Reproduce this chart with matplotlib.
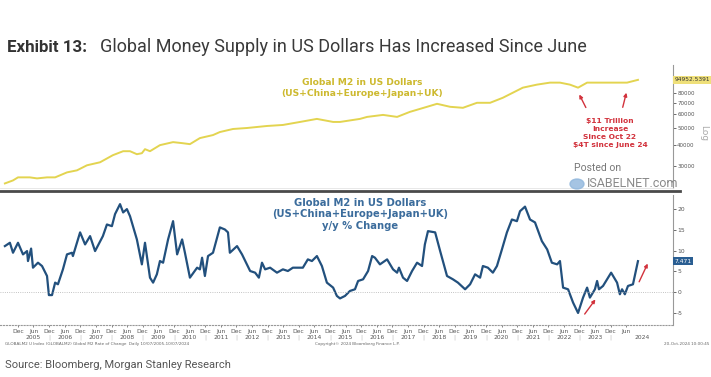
import matplotlib
matplotlib.use("Agg")
import matplotlib.pyplot as plt
import matplotlib.transforms as mtransforms
from matplotlib.patches import Ellipse
from matplotlib.ticker import NullLocator

# Global M2 in USD (billions), decimal-year dates
m2_dates = [2004.50, 2004.76, 2004.92, 2005.30, 2005.53, 2005.85, 2006.11, 2006.49, 2006.81,
            2007.13, 2007.55, 2007.96, 2008.29, 2008.51, 2008.73, 2008.89, 2008.99, 2009.15,
            2009.47, 2009.89, 2010.18, 2010.43, 2010.75, 2011.17, 2011.39, 2011.81, 2012.26,
            2012.90, 2013.41, 2013.96, 2014.50, 2015.02, 2015.24, 2015.88, 2016.11, 2016.62,
            2017.07, 2017.48, 2018.03, 2018.35, 2018.77, 2019.18, 2019.63, 2020.05, 2020.46,
            2021.10, 2021.55, 2021.97, 2022.29, 2022.61, 2022.87, 2023.16, 2023.67, 2024.12,
            2024.44, 2024.79]
m2_values = [23880, 24860, 25890, 25890, 25540, 25890, 25890, 27670, 28430,
             30410, 31660, 34790, 36690, 36690, 35250, 35730, 37700, 36690,
             39780, 41410, 40860, 40310, 43700, 45500, 47370, 49330, 49990,
             51350, 52050, 54190, 56430, 54190, 54190, 56430, 57950, 59520,
             57950, 61970, 66300, 69000, 66300, 65420, 69940, 69940, 74800,
             85560, 89080, 91500, 91500, 89080, 85560, 91500, 91500, 91500,
             91500, 94952.5391]

# y/y % change
yoy_dates = [2004.50, 2004.66, 2004.76, 2004.92, 2005.08, 2005.21, 2005.24, 2005.34, 2005.40,
             2005.56, 2005.69, 2005.85, 2005.91, 2006.01, 2006.11, 2006.20, 2006.36, 2006.49,
             2006.65, 2006.68, 2006.91, 2007.07, 2007.23, 2007.39, 2007.64, 2007.77, 2007.93,
             2008.03, 2008.19, 2008.29, 2008.41, 2008.51, 2008.73, 2008.89, 2008.99, 2009.15,
             2009.25, 2009.37, 2009.47, 2009.57, 2009.73, 2009.89, 2010.02, 2010.18, 2010.27,
             2010.43, 2010.66, 2010.75, 2010.82, 2010.91, 2011.01, 2011.17, 2011.39, 2011.55,
             2011.65, 2011.71, 2011.94, 2012.10, 2012.36, 2012.52, 2012.64, 2012.74, 2012.84,
             2013.00, 2013.22, 2013.41, 2013.57, 2013.73, 2014.05, 2014.21, 2014.34, 2014.50,
             2014.66, 2014.82, 2015.02, 2015.14, 2015.24, 2015.40, 2015.56, 2015.72, 2015.82,
             2015.98, 2016.14, 2016.27, 2016.36, 2016.52, 2016.75, 2016.94, 2017.07, 2017.13,
             2017.26, 2017.39, 2017.55, 2017.71, 2017.87, 2017.96, 2018.06, 2018.29, 2018.45,
             2018.67, 2018.86, 2019.02, 2019.25, 2019.41, 2019.57, 2019.73, 2019.82, 2019.98,
             2020.14, 2020.27, 2020.43, 2020.59, 2020.75, 2020.91, 2021.01, 2021.17, 2021.33,
             2021.49, 2021.71, 2021.88, 2022.03, 2022.20, 2022.29, 2022.39, 2022.55, 2022.71,
             2022.87, 2023.03, 2023.16, 2023.25, 2023.41, 2023.48, 2023.54, 2023.67, 2023.93,
             2024.12, 2024.21, 2024.28, 2024.37, 2024.47, 2024.63, 2024.79]
yoy_values = [11.1, 11.9, 9.5, 11.9, 9.1, 9.9, 7.5, 10.5, 5.9,
              7.1, 6.3, 3.9, -0.7, -0.7, 2.3, 1.9, 5.5, 9.1,
              9.5, 8.7, 14.4, 11.5, 13.5, 9.9, 13.5, 16.3, 15.9,
              18.8, 21.2, 19.2, 20.0, 18.3, 12.7, 6.7, 11.9, 3.5,
              2.3, 4.3, 7.5, 7.1, 12.7, 17.1, 9.1, 12.7, 9.5,
              3.5, 5.9, 5.5, 8.3, 3.9, 8.7, 9.5, 15.6, 15.1,
              14.4, 9.5, 11.1, 9.1, 5.1, 4.7, 3.5, 7.1, 5.5,
              5.9, 4.7, 5.5, 5.1, 5.9, 5.9, 7.9, 7.5, 8.7,
              6.3, 2.3, 1.1, -0.9, -1.5, -0.9, 0.3, 0.7, 2.7,
              3.1, 5.1, 8.7, 8.3, 6.7, 7.9, 5.5, 4.7, 5.9,
              3.5, 2.7, 5.1, 7.1, 6.3, 11.5, 14.7, 14.4, 9.9,
              3.9, 3.1, 2.3, 0.7, 1.9, 4.3, 3.5, 6.3, 5.9,
              4.7, 6.3, 10.3, 14.4, 17.5, 17.1, 19.5, 20.6, 17.5,
              16.8, 12.3, 10.3, 7.1, 6.7, 7.5, 1.1, 0.7, -2.5,
              -5.0, -1.3, 1.1, -1.3, 0.7, 2.7, 0.7, 1.5, 4.7,
              2.3, -0.5, 0.7, -0.5, 1.5, 1.9, 7.471]

m2_ticks = [30000, 40000, 50000, 60000, 70000, 80000]
yoy_ticks = [-5, 0, 5, 10, 15, 20]
years = list(range(2005, 2025))

YELLOW_LINE = '#e3d450'
YELLOW_TEXT = '#cdb92e'
BLUE_LINE = '#22507d'
BLUE_TEXT = '#3b6c9c'
RED = '#d2323c'
GRAY = '#555555'

W, H = 711, 377
fig = plt.figure(figsize=(W / 100, H / 100), dpi=100)
fig.patch.set_facecolor('white')

xmin, xmax = 2004.343, 2025.913

def px_axes(top, bottom, right=673):
    return [0, 1 - bottom / H, right / W, (bottom - top) / H]

# ---------- top panel ----------
ax1 = fig.add_axes(px_axes(65, 188))
ax1.plot(m2_dates, m2_values, color=YELLOW_LINE, lw=1.4, solid_joinstyle='round')
ax1.set_yscale('log')
ax1.set_ylim(22470, 115730)
ax1.set_xlim(xmin, xmax)
ax1.yaxis.tick_right()
ax1.set_yticks(m2_ticks, [str(v) for v in m2_ticks])
ax1.yaxis.set_minor_locator(NullLocator())
ax1.tick_params(axis='y', labelsize=4, colors=GRAY, length=2, pad=1, width=0.6)
ax1.set_xticks([])
for s in ['top', 'left']:
    ax1.spines[s].set_visible(False)
ax1.spines['bottom'].set_color('#e4e4e4')
ax1.spines['bottom'].set_linewidth(0.6)
ax1.spines['right'].set_color('#999999')
ax1.spines['right'].set_linewidth(0.8)

ax1.text(2015.95, 85170, 'Global M2 in US Dollars\n(US+China+Europe+Japan+UK)',
         ha='center', va='center', color=YELLOW_TEXT, fontsize=6.6,
         fontweight='bold', family='DejaVu Sans', linespacing=1.25)
ax1.text(2023.89, 46760, '$11 Trillion\nIncrease\nSince Oct 22\n$4T since June 24',
         ha='center', va='center', color=RED, fontsize=5.4, fontweight='bold',
         family='DejaVu Sans', linespacing=1.45)
arrow_kw = dict(arrowstyle='-|>', color=RED, lw=1.0, mutation_scale=5)
ax1.annotate('', xy=(2022.87, 80750), xytext=(2023.16, 63540), arrowprops=arrow_kw)
ax1.annotate('', xy=(2024.44, 82940), xytext=(2024.28, 63540), arrowprops=arrow_kw)

ax1.text(1.002, m2_values[-1], '94952.5391', transform=ax1.get_yaxis_transform(),
         ha='left', va='center', fontsize=4.2, color='#333333', clip_on=False,
         bbox=dict(boxstyle='square,pad=0.25', fc='#efe07a', ec='none'))
ax1.text(1.046, 0.45, 'Log', transform=ax1.transAxes, rotation=270, ha='center',
         va='center', fontsize=6.5, color='#aaaaaa')

# ---------- bottom panel ----------
ax2 = fig.add_axes(px_axes(195, 325))
ax2.plot(yoy_dates, yoy_values, color=BLUE_LINE, lw=1.6, solid_joinstyle='round')
ax2.axhline(0, color='#b0b0b0', lw=0.6, ls=':')
ax2.set_xlim(xmin, xmax)
ax2.set_ylim(-7.9, 23.4)
ax2.yaxis.tick_right()
ax2.set_yticks(yoy_ticks, [str(v) for v in yoy_ticks])
ax2.tick_params(axis='y', labelsize=4.3, colors=GRAY, length=2, pad=1, width=0.6)
for s in ['top', 'left']:
    ax2.spines[s].set_visible(False)
ax2.spines['right'].set_color('#999999')
ax2.spines['right'].set_linewidth(0.8)
ax2.spines['bottom'].set_color('#999999')
ax2.spines['bottom'].set_linestyle(':')
ax2.spines['bottom'].set_linewidth(0.8)

xt, xl = [], []
for y in range(2004, 2025):
    if y >= 2005:
        xt.append(y + 5 / 12)
        xl.append('Jun')
    if y <= 2023:
        xt.append(y + 11 / 12)
        xl.append('Dec')
ax2.set_xticks(xt, xl)
ax2.tick_params(axis='x', labelsize=4.3, colors=GRAY, length=1.5, pad=1.2, width=0.5)

trans = mtransforms.blended_transform_factory(ax2.transData, ax2.transAxes)
for y in years:
    xpos = y + 5 / 12 if y < 2024 else 2024.92
    ax2.text(xpos, -0.095, str(y), transform=trans, ha='center', va='center',
             fontsize=4.3, color=GRAY, clip_on=False)
    if y < 2024:
        ax2.text(y + 11 / 12, -0.095, '|', transform=trans, ha='center', va='center',
                 fontsize=4.3, color='#bbbbbb', clip_on=False)

ax2.text(2015.88, 18.75, 'Global M2 in US Dollars\n(US+China+Europe+Japan+UK)\ny/y % Change',
         ha='center', va='center', color=BLUE_TEXT, fontsize=7.2, fontweight='bold',
         family='DejaVu Sans', linespacing=1.2)
ax2.annotate('', xy=(2023.48, -1.2), xytext=(2023.03, -5.8), arrowprops=arrow_kw)
ax2.annotate('', xy=(2025.14, 7.5), xytext=(2024.79, 1.9), arrowprops=arrow_kw)
ax2.text(1.002, yoy_values[-1], '7.471', transform=ax2.get_yaxis_transform(),
         ha='left', va='center', fontsize=4.3, color='white', clip_on=False,
         bbox=dict(boxstyle='square,pad=0.3', fc='#2a5e92', ec='none'))

# separator between panels
fig.add_artist(plt.Line2D([0, 680 / W], [1 - 191 / H, 1 - 191 / H], color='#4a4a4a', lw=2.0))

# watermark
fig.text(598 / W, 1 - 168 / H, 'Posted on', ha='center', va='center', fontsize=7.5,
         color='#777777', family='Roboto')
fig.text(587 / W, 1 - 184 / H, 'ISABELNET.com', ha='left', va='center', fontsize=9,
         color='#8a8a8a', family='Roboto')
fig.add_artist(Ellipse((577 / W, 1 - 184 / H), 14 / W, 10 / H, color='#8fb6dc', alpha=0.8))

# title
fig.text(7 / W, 1 - 47 / H, 'Exhibit 13:', ha='left', va='center', fontsize=12.2,
         fontweight='bold', color='#333333', family='Roboto')
fig.text(100 / W, 1 - 47 / H, 'Global Money Supply in US Dollars Has Increased Since June',
         ha='left', va='center', fontsize=13, color='#3a3a3a', family='Roboto')

# footnotes
fig.text(5 / W, 1 - 344 / H, 'GLOBALM2 U Index (GLOBALM2) Global M2 Rate of Change  Daily 10/07/2005-10/07/2024',
         ha='left', va='center', fontsize=3, color='#666666')
fig.text(357 / W, 1 - 344 / H, 'Copyright\u00a9 2024 Bloomberg Finance L.P.', ha='center',
         va='center', fontsize=3, color='#666666')
fig.text(709 / W, 1 - 344 / H, '20-Oct-2024 10:00:45', ha='right', va='center',
         fontsize=3, color='#666666')
fig.text(5 / W, 1 - 365 / H, 'Source: Bloomberg, Morgan Stanley Research', ha='left',
         va='center', fontsize=8, color='#555555', family='Roboto')

fig.savefig('out.png', dpi=100, facecolor='white')
